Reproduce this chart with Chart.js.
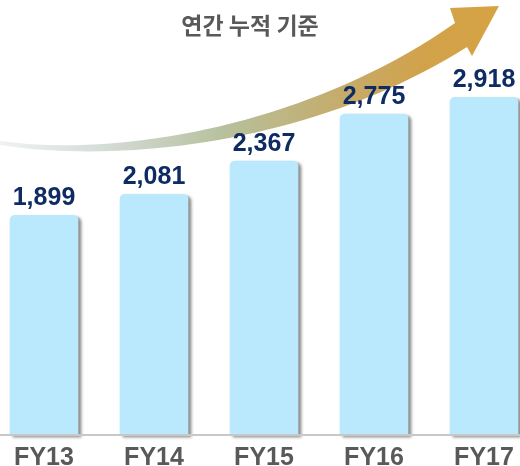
<!DOCTYPE html>
<html lang="ko">
<head>
    <meta charset="UTF-8">
    <title>연간 누적 기준</title>
    <script src="https://cdn.jsdelivr.net/npm/chart.js"></script>
    <style>
        body { margin: 0; background: #fff; }
        .wrap { position: relative; width: 520px; height: 466px; }
    </style>
</head>
<body>
    <div class="wrap"><canvas id="myChart"></canvas></div>
    <script>
        const years = ['FY13', 'FY14', 'FY15', 'FY16', 'FY17'];
        const totals = [1899, 2081, 2367, 2775, 2918];
        const titleText = '연간 누적 기준';

        // curved growth arrow behind the bars, title, bar shadow, labels
        const arrowPlugin = {
            id: 'arrow',
            beforeDatasetsDraw(chart) {
                const ctx = chart.ctx;
                ctx.save();
                const g = ctx.createLinearGradient(0, 0, 500, 0);
                g.addColorStop(0, '#eef2f4');
                g.addColorStop(0.2, '#d5ddd9');
                g.addColorStop(0.45, '#b7c09c');
                g.addColorStop(0.65, '#c3ae72');
                g.addColorStop(0.85, '#d2a24a');
                g.addColorStop(1, '#d6a344');
                ctx.fillStyle = g;
                ctx.beginPath();
                ctx.moveTo(0, 141);
                ctx.bezierCurveTo(120, 158, 310, 125, 455, 23);
                ctx.lineTo(450, 8);
                ctx.lineTo(499, 6);
                ctx.lineTo(472, 56);
                ctx.lineTo(467, 47);
                ctx.bezierCurveTo(320, 140, 130, 165, 0, 145);
                ctx.closePath();
                ctx.fill();

                ctx.fillStyle = '#595959';
                ctx.font = 'bold 23px "Noto Sans CJK KR", sans-serif';
                ctx.textAlign = 'center';
                ctx.textBaseline = 'middle';
                ctx.fillText(titleText, 250, 25);
                ctx.restore();

                // bar shadow
                ctx.save();
                ctx.shadowColor = 'rgba(0,0,0,0.45)';
                ctx.shadowOffsetX = 3;
                ctx.shadowOffsetY = 2;
                ctx.shadowBlur = 3;
            },
            afterDatasetsDraw(chart) {
                const ctx = chart.ctx;
                ctx.restore();
                const x = chart.scales.x;
                const y0 = chart.scales.y.getPixelForValue(0);
                ctx.save();
                ctx.strokeStyle = '#c8c8c8';
                ctx.lineWidth = 2;
                ctx.beginPath();
                ctx.moveTo(0, y0);
                ctx.lineTo(chart.width, y0);
                ctx.stroke();

                ctx.textAlign = 'center';
                ctx.textBaseline = 'alphabetic';
                ctx.font = 'bold 25px "Liberation Sans", Arial, sans-serif';
                ctx.fillStyle = '#0f2b63';
                chart.getDatasetMeta(0).data.forEach((bar, i) => {
                    ctx.fillText(totals[i].toLocaleString('en-US'), bar.x, bar.y - 10);
                });

                ctx.fillStyle = '#595959';
                years.forEach((lab, i) => {
                    ctx.fillText(lab, x.getPixelForValue(i), y0 + 30);
                });
                ctx.restore();
            }
        };

        const ctx = document.getElementById('myChart').getContext('2d');
        new Chart(ctx, {
            type: 'bar',
            data: {
                labels: years,
                datasets: [{
                    data: totals,
                    backgroundColor: '#bae8fc',
                    borderRadius: { topLeft: 5, topRight: 5 },
                    borderSkipped: 'bottom',
                    barThickness: 68,
                    clip: false
                }]
            },
            plugins: [arrowPlugin],
            options: {
                responsive: true,
                maintainAspectRatio: false,
                animation: false,
                layout: { padding: { left: 44, right: 36, top: 0, bottom: 31 } },
                plugins: {
                    legend: { display: false },
                    tooltip: { enabled: false }
                },
                scales: {
                    x: {
                        display: false,
                        offset: false
                    },
                    y: {
                        display: false,
                        min: 0,
                        max: 3760
                    }
                }
            }
        });
    </script>
</body>
</html>
